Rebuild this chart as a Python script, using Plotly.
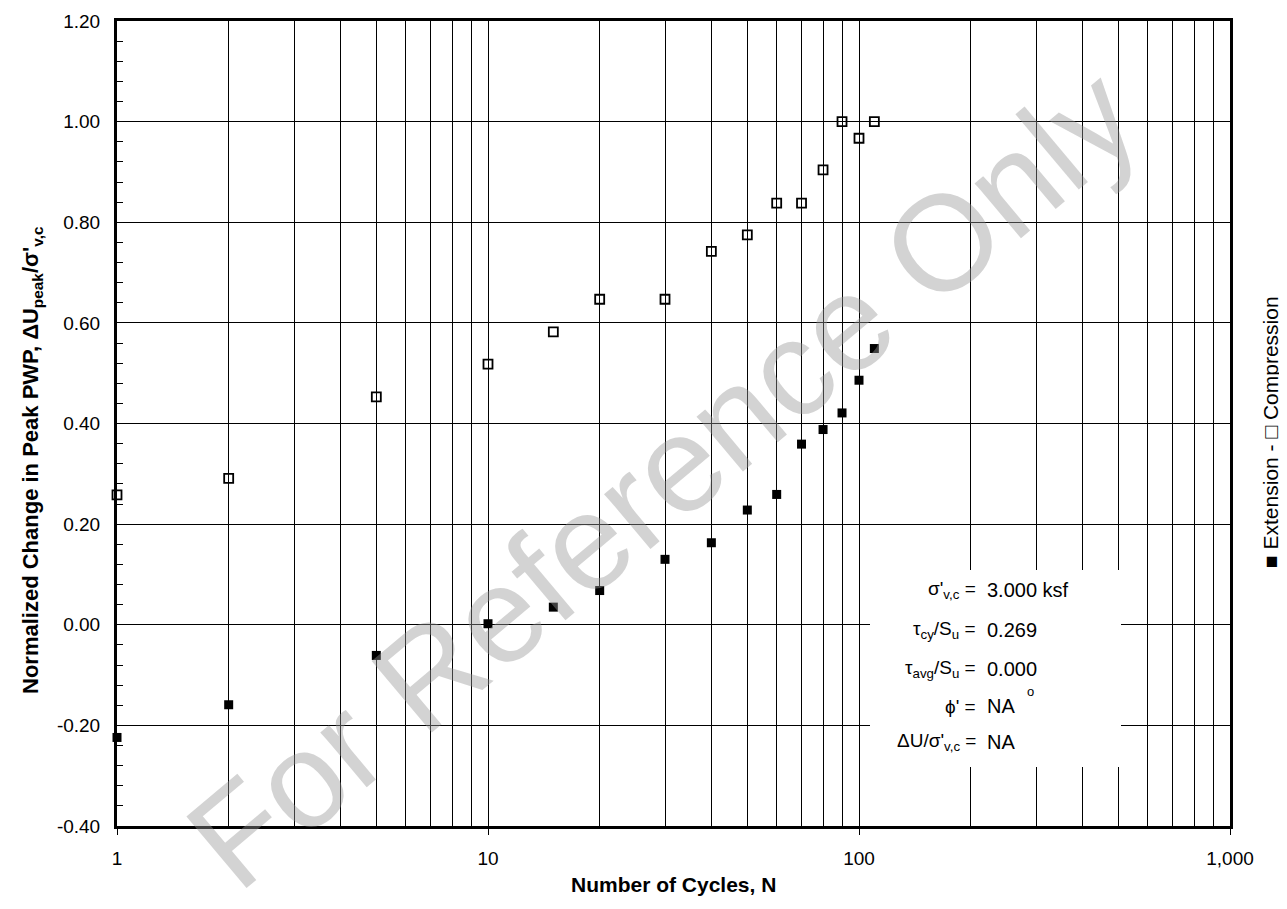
import plotly.graph_objects as go

# ---- data ----
cycles = [1, 2, 5, 10, 15, 20, 30, 40, 50, 60, 70, 80, 90, 100, 110]
compression = [0.258, 0.291, 0.453, 0.518, 0.582, 0.647, 0.647, 0.742, 0.775,
               0.838, 0.838, 0.904, 1.000, 0.967, 1.000]
extension = [-0.224, -0.159, -0.061, 0.002, 0.035, 0.068, 0.130, 0.163, 0.228,
             0.259, 0.359, 0.388, 0.421, 0.486, 0.549]

x_tickvals = [1, 10, 100, 1000]
x_ticktext = ["1", "10", "100", "1,000"]
x_minor = [2, 3, 4, 5, 6, 7, 8, 9, 20, 30, 40, 50, 60, 70, 80, 90,
           200, 300, 400, 500, 600, 700, 800, 900]
y_tickvals = [-0.4, -0.2, 0.0, 0.2, 0.4, 0.6, 0.8, 1.0, 1.2]
y_ticktext = ["-0.40", "-0.20", "0.00", "0.20", "0.40", "0.60", "0.80", "1.00", "1.20"]

param_labels = ["σ'<sub>v,c</sub> =", "τ<sub>cy</sub>/S<sub>u</sub> =",
                "τ<sub>avg</sub>/S<sub>u</sub> =", "ϕ' =", "ΔU/σ'<sub>v,c</sub> ="]
param_values = ["3.000 ksf", "0.269", "0.000", "NA", "NA"]

x_title = "<b>Number of Cycles, N</b>"
y_title = "<b>Normalized Change in Peak PWP, ΔU<sub>peak</sub>/σ'<sub>v,c</sub></b>"
side_legend = "■ Extension - □ Compression"
watermark = "For Reference Only"

FONT = "Liberation Sans, Arial, sans-serif"
OFF = 8                      # page offset of the plot div
W, H = 1287 - OFF, 909 - 2 * OFF
L, R, T, B = 117, 1230, 21, 826   # plot area in page pixels


def px(x):
    return (x - L) / (R - L)


def py(y):
    return (B - y) / (B - T)


fig = go.Figure()
fig.add_trace(go.Scatter(
    x=cycles, y=compression, mode="markers", name="Compression",
    marker=dict(symbol="square-open", size=9, color="black", line=dict(width=1.8, color="black")),
    cliponaxis=False, showlegend=False))
fig.add_trace(go.Scatter(
    x=cycles, y=extension, mode="markers", name="Extension",
    marker=dict(symbol="square", size=9, color="black"),
    cliponaxis=False, showlegend=False))

shapes = [dict(type="rect", xref="paper", yref="paper",
               x0=px(870), x1=px(1121), y0=py(767), y1=py(570),
               fillcolor="white", line=dict(width=0), layer="above")]

annotations = []
row_y = [590, 630, 669, 706, 742]
for lab, val, yy in zip(param_labels, param_values, row_y):
    annotations.append(dict(xref="paper", yref="paper", x=px(978), y=py(yy),
                            text=lab, showarrow=False, xanchor="right", yanchor="middle",
                            font=dict(family=FONT, size=19, color="black")))
    annotations.append(dict(xref="paper", yref="paper", x=px(985), y=py(yy),
                            text=val, showarrow=False, xanchor="left", yanchor="middle",
                            font=dict(family=FONT, size=20, color="black")))
annotations.append(dict(xref="paper", yref="paper", x=px(1030), y=py(691),
                        text="o", showarrow=False, xanchor="center", yanchor="middle",
                        font=dict(family=FONT, size=13, color="black")))
annotations.append(dict(xref="paper", yref="paper", x=px(1270), y=py(432),
                        text=side_legend, showarrow=False, textangle=-90,
                        xanchor="center", yanchor="middle",
                        font=dict(family=FONT, size=21, color="black")))
annotations.append(dict(xref="paper", yref="paper", x=px(32), y=py(460),
                        text=y_title, showarrow=False, textangle=-90,
                        xanchor="center", yanchor="middle",
                        font=dict(family=FONT, size=22, color="black")))
annotations.append(dict(xref="paper", yref="paper", x=px(673), y=py(884),
                        text=x_title, showarrow=False,
                        xanchor="center", yanchor="middle",
                        font=dict(family=FONT, size=21, color="black")))
annotations.append(dict(xref="paper", yref="paper", x=px(662), y=py(478),
                        text=watermark, showarrow=False, textangle=-40,
                        xanchor="center", yanchor="middle",
                        font=dict(family=FONT, size=136, color="rgba(150,150,150,0.42)")))

fig.update_layout(
    width=W, height=H,
    margin=dict(l=L - OFF, r=W - (R - OFF), t=T - OFF, b=H - (B - OFF), autoexpand=False),
    paper_bgcolor="white", plot_bgcolor="white",
    font=dict(family=FONT, size=19, color="black"),
    shapes=shapes, annotations=annotations,
    xaxis=dict(
        type="log", range=[0, 3], automargin=False,
        tickvals=x_tickvals, ticktext=x_ticktext,
        ticks="outside", ticklen=6, tickcolor="black", tickwidth=1,
        showgrid=True, gridcolor="black", gridwidth=1,
        minor=dict(tickvals=x_minor, showgrid=True, gridcolor="black", gridwidth=1, ticks=""),
        showline=True, linecolor="black", linewidth=3, mirror=True,
        zeroline=False,
        tickfont=dict(family=FONT, size=19, color="black"),
        ticklabelstandoff=7,
    ),
    yaxis=dict(
        range=[-0.4, 1.2], automargin=False,
        tickvals=y_tickvals, ticktext=y_ticktext,
        ticks="inside", ticklen=6, tickcolor="black", tickwidth=1,
        minor=dict(dtick=0.04, tick0=0, ticks="inside", ticklen=6, tickcolor="black", showgrid=False),
        showgrid=True, gridcolor="black", gridwidth=1,
        showline=True, linecolor="black", linewidth=3, mirror=True,
        zeroline=False,
        tickfont=dict(family=FONT, size=19, color="black"),
        ticklabelstandoff=10,
    ),
)

fig.write_html("out.html")
